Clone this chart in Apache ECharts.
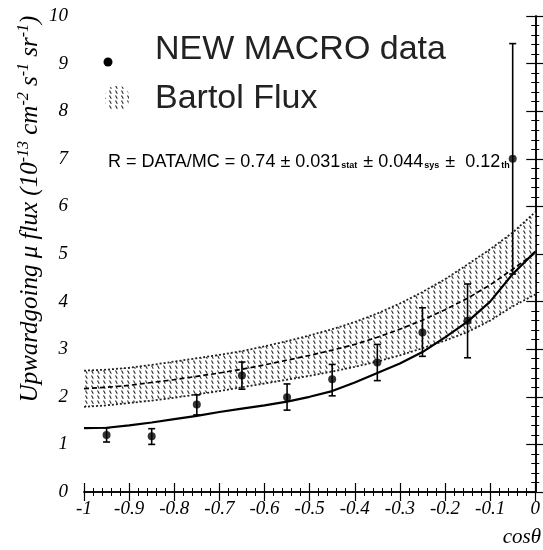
<!DOCTYPE html>
<html><head><meta charset="utf-8">
<script src="https://cdn.jsdelivr.net/npm/echarts@6/dist/echarts.min.js"></script>
<style>html,body{margin:0;padding:0;background:#fff}#c{width:543px;height:550px}</style>
</head><body><div id="c"></div>
<script>
// ---- data ----
const gridX = [-1,-0.95,-0.9,-0.85,-0.8,-0.75,-0.7,-0.65,-0.6,-0.55,-0.5,-0.45,-0.4,-0.35,-0.3,-0.25,-0.2,-0.15,-0.1,-0.05,0];
const bartolUpper = [2.55,2.57,2.61,2.67,2.74,2.81,2.88,2.96,3.06,3.17,3.29,3.42,3.57,3.75,3.96,4.2,4.47,4.78,5.1,5.45,5.88];
const bartolLower = [1.79,1.82,1.87,1.92,1.98,2.05,2.12,2.2,2.28,2.36,2.44,2.53,2.63,2.74,2.87,3.02,3.18,3.36,3.6,3.9,4.15];
const bartolCenter = [2.17,2.2,2.24,2.3,2.36,2.43,2.5,2.58,2.67,2.77,2.87,2.98,3.1,3.25,3.42,3.61,3.83,4.07,4.35,4.68,5.02];
const scaledMC = [1.34,1.35,1.4,1.46,1.53,1.6,1.68,1.75,1.82,1.9,2.0,2.12,2.3,2.5,2.7,2.94,3.25,3.58,4.0,4.58,5.05];
const dataX = [-0.95,-0.85,-0.75,-0.65,-0.55,-0.45,-0.35,-0.25,-0.15,-0.05];
const dataY = [1.2,1.17,1.84,2.45,1.99,2.37,2.72,3.35,3.6,7.0];
const dataLo = [1.05,1.0,1.62,2.16,1.72,2.02,2.34,2.85,2.82,4.58];
const dataHi = [1.35,1.33,2.04,2.73,2.27,2.68,3.1,3.87,4.37,9.42];
const xTicks = [-1,-0.9,-0.8,-0.7,-0.6,-0.5,-0.4,-0.3,-0.2,-0.1,0];
const yTicks = [0,1,2,3,4,5,6,7,8,9,10];

function hatch(){
  const c=document.createElement('canvas'); c.width=6; c.height=5;
  const g=c.getContext('2d');
  g.fillStyle='#fff'; g.fillRect(0,0,6,5);
  g.strokeStyle='#2a2a2a'; g.lineWidth=1.1;
  g.beginPath(); g.moveTo(1.5,0.5); g.lineTo(3.3,3.8); g.stroke();
  return c;
}
const pat = {image: hatch(), repeat:'repeat'};
const pair = (xs, ys) => xs.map((x,i)=>[x, ys[i]]);

const chart = echarts.init(document.getElementById('c'));
const serif = 'Liberation Serif';
const axisCommon = {
  axisLine:{lineStyle:{color:'#000',width:1.5}},
  axisTick:{inside:true,length:9,lineStyle:{color:'#000',width:1.2}},
  minorTick:{show:true,splitNumber:5,length:4,lineStyle:{color:'#000',width:1}},
  splitLine:{show:false}
};
chart.setOption({
  animation:false,
  grid:{left:84,right:3,top:16,bottom:58},
  xAxis:[
    Object.assign({type:'value',min:-1,max:0,interval:0.1,position:'bottom',
      axisLabel:{fontFamily:serif,fontStyle:'italic',fontSize:19,color:'#000',margin:7,
        formatter:v=>{const t=xTicks.find(k=>Math.abs(k-v)<1e-9);return t===undefined?'':String(t);}}},axisCommon),
    Object.assign({type:'value',min:-1,max:0,interval:0.1,position:'top',axisLabel:{show:false}},axisCommon)
  ],
  yAxis:[
    Object.assign({type:'value',min:0,max:10,interval:1,position:'left',
      axisLabel:{fontFamily:serif,fontStyle:'italic',fontSize:19,color:'#000',margin:16,
        formatter:v=>{const t=yTicks.find(k=>Math.abs(k-v)<1e-9);return t===undefined?'':String(t);}}},axisCommon),
    Object.assign({type:'value',min:0,max:10,interval:1,position:'right',axisLabel:{show:false}},axisCommon)
  ],
  series:[
    {type:'custom',z:1,silent:true,data:[0],
      renderItem:(params,api)=>{
        const pts=[];
        gridX.forEach((x,i)=>pts.push(api.coord([x,bartolLower[i]])));
        for(let i=gridX.length-1;i>=0;i--) pts.push(api.coord([gridX[i],bartolUpper[i]]));
        return {type:'polygon',shape:{points:pts},style:{fill:pat}};
      }},
    {type:'line',data:pair(gridX,bartolUpper),symbol:'none',lineStyle:{color:'#222',width:1.8,type:[2,2]},z:2},
    {type:'line',data:pair(gridX,bartolLower),symbol:'none',lineStyle:{color:'#222',width:1.8,type:[2,2]},z:2},
    {type:'line',data:pair(gridX,bartolCenter),symbol:'none',lineStyle:{color:'#000',width:1.7,type:[5,3]},z:2},
    {type:'line',data:pair(gridX,scaledMC),symbol:'none',lineStyle:{color:'#000',width:2.2},z:3},
    {type:'custom',z:4,data:dataX.map((x,i)=>[x,dataLo[i],dataHi[i]]),
      renderItem:(params,api)=>{
        const lo=api.coord([api.value(0),api.value(1)]);
        const hi=api.coord([api.value(0),api.value(2)]);
        const w=3.5;
        const st={stroke:'#000',lineWidth:1.6};
        return {type:'group',children:[
          {type:'line',shape:{x1:lo[0],y1:lo[1],x2:hi[0],y2:hi[1]},style:st},
          {type:'line',shape:{x1:lo[0]-w,y1:lo[1],x2:lo[0]+w,y2:lo[1]},style:st},
          {type:'line',shape:{x1:hi[0]-w,y1:hi[1],x2:hi[0]+w,y2:hi[1]},style:st}
        ]};
      }},
    {type:'scatter',data:pair(dataX,dataY),symbol:'circle',symbolSize:8,itemStyle:{color:'#000'},z:5}
  ],
  graphic:[
    {type:'circle',shape:{cx:108,cy:62,r:4.5},style:{fill:'#000'}},
    {type:'rect',shape:{x:105,y:86,width:24,height:24,r:10},style:{fill:pat}},
    {type:'text',x:155,y:50,style:{text:'NEW MACRO data',font:'34px "Liberation Sans"',fill:'#222',verticalAlign:'middle'}},
    {type:'text',x:155,y:99,style:{text:'Bartol Flux',font:'34px "Liberation Sans"',fill:'#222',verticalAlign:'middle'}},
    {type:'text',x:108,y:162,style:{
      text:'{m|R = DATA/MC = 0.74 ± 0.031}{s|stat}{m| ± 0.044}{s|sys}{m| ±  0.12}{s|th}',
      verticalAlign:'middle',
      rich:{m:{font:'18px "Liberation Sans"',fill:'#000'},s:{font:'bold 9px "Liberation Sans"',fill:'#000',padding:[8,1,0,1]}}}},
    {type:'text',x:30,y:209,rotation:Math.PI/2,style:{
      text:'{m|Upwardgoing μ flux (10}{p|-13}{m| cm}{p|-2}{m| s}{p|-1}{m| sr}{p|-1}{m|)}',
      align:'center',verticalAlign:'middle',
      rich:{m:{font:'italic 25px "Liberation Serif"',fill:'#000'},p:{font:'italic 16px "Liberation Serif"',fill:'#000',padding:[0,0,12,0]}}}},
    {type:'text',x:541,y:537,style:{text:'cosθ',font:'italic 21px "Liberation Serif"',fill:'#000',align:'right',verticalAlign:'middle'}}
  ]
});
</script></body></html>
